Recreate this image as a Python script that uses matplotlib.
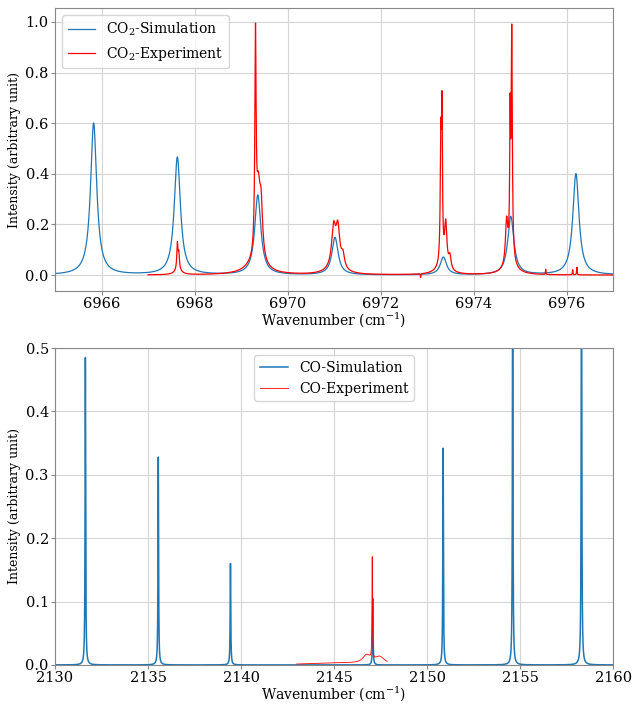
import numpy as np
import matplotlib
matplotlib.use('Agg')
import matplotlib.pyplot as plt

plt.rcParams['font.family'] = 'DejaVu Serif'
plt.rcParams['mathtext.fontset'] = 'dejavuserif'
plt.rcParams['font.size'] = 10

# CO2 band: simulated line list (centre, peak height), Lorentzian HWHM
co2_sim_center = [6965.83, 6967.63, 6969.36, 6971.02, 6973.35, 6974.80, 6976.20]
co2_sim_height = [0.60, 0.465, 0.315, 0.148, 0.07, 0.23, 0.40]
co2_sim_hwhm = 0.08

# CO2 measured spectrum, described by fitted components (centre, height, hwhm)
co2_exp_center = [6967.63, 6967.66, 6967.65,
                  6969.31, 6969.37, 6969.43, 6969.32,
                  6970.99, 6971.08, 6971.19, 6971.03,
                  6973.295, 6973.32, 6973.40, 6973.49, 6973.33,
                  6974.82, 6974.785, 6974.71, 6974.80, 6974.78,
                  6972.86, 6975.55, 6976.13, 6976.22]
co2_exp_height = [0.10, 0.06, 0.02,
                  0.84, 0.25, 0.20, 0.045,
                  0.15, 0.15, 0.05, 0.025,
                  0.47, 0.56, 0.17, 0.05, 0.03,
                  0.86, 0.49, 0.17, 0.07, 0.02,
                  -0.015, 0.02, 0.02, 0.03]
co2_exp_hwhm = [0.014, 0.015, 0.08,
                0.016, 0.045, 0.04, 0.25,
                0.05, 0.05, 0.04, 0.2,
                0.014, 0.012, 0.03, 0.03, 0.15,
                0.014, 0.01, 0.03, 0.06, 0.2,
                0.005, 0.005, 0.006, 0.006]
co2_exp_range = (6967.0, 6977.0)

# CO fundamental band
co_sim_center = [2131.63, 2135.55, 2139.43, 2147.08, 2150.86, 2154.60, 2158.30]
co_sim_height = [0.485, 0.328, 0.160, 0.105, 0.342, 0.62, 0.75]
co_sim_hwhm = 0.018

co_exp_center = [2147.05, 2146.75, 2147.45, 2145.20]
co_exp_height = [0.16, 0.013, 0.011, 0.003]
co_exp_hwhm = [0.015, 0.25, 0.3, 2.0]
co_exp_range = (2143.0, 2147.85)


def lorentz_sum(x, centers, heights, hwhm):
    hwhm = np.broadcast_to(hwhm, len(centers))
    y = np.zeros_like(x)
    for c, h, g in zip(centers, heights, hwhm):
        y += h * g**2 / ((x - c)**2 + g**2)
    return y


fig = plt.figure(figsize=(6.4, 7.04))
ax_top = fig.add_axes([0.086, 0.5866, 0.872, 0.402])
ax_bot = fig.add_axes([0.086, 0.0555, 0.872, 0.4501])

# top panel: CO2
x = np.linspace(6965, 6977, 12001)
xe = np.linspace(co2_exp_range[0], co2_exp_range[1], 10001)
ax = ax_top
ax.plot(x, lorentz_sum(x, co2_sim_center, co2_sim_height, co2_sim_hwhm),
        color='#1f77b4', lw=0.9, label='CO$_2$-Simulation')
ax.plot(xe, lorentz_sum(xe, co2_exp_center, co2_exp_height, co2_exp_hwhm),
        color='red', lw=0.9, label='CO$_2$-Experiment')
ax.set_xlim(6965, 6977)
ax.set_ylim(-0.063, 1.055)
ax.legend(loc='upper left')

# bottom panel: CO
x = np.linspace(2130, 2160, 60001)
xe = np.linspace(co_exp_range[0], co_exp_range[1], 5001)
ax = ax_bot
ax.plot(x, lorentz_sum(x, co_sim_center, co_sim_height, co_sim_hwhm),
        color='#1f77b4', lw=1.1, label='CO-Simulation')
ax.plot(xe, lorentz_sum(xe, co_exp_center, co_exp_height, co_exp_hwhm),
        color='red', lw=0.6, label='CO-Experiment')
ax.set_xlim(2130, 2160)
ax.set_ylim(0, 0.5)
ax.legend(loc='upper center')

for ax in (ax_top, ax_bot):
    ax.grid(True, color='#d5d5d5', lw=0.8)
    ax.set_axisbelow(True)
    for s in ax.spines.values():
        s.set_color('#888888')
    ax.tick_params(color='#888888', labelsize=10.5, length=3, pad=1.5)
    ax.set_xlabel('Wavenumber (cm$^{-1}$)', fontsize=10, labelpad=-1)
    ax.set_ylabel('Intensity (arbitrary unit)', fontsize=9, labelpad=3)

fig.savefig('out.png', dpi=100)
